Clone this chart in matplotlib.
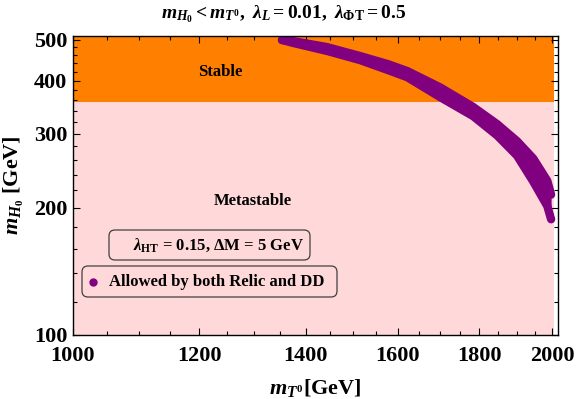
import matplotlib
matplotlib.use("Agg")
import matplotlib.pyplot as plt
from matplotlib.patches import FancyBboxPatch
from matplotlib.transforms import IdentityTransform
from matplotlib.ticker import FixedLocator, NullFormatter

# ---- data ----
band_x = [1353, 1375, 1444, 1515, 1578, 1622, 1701, 1784, 1847, 1901, 1946, 1986, 1997]
band_upper = [500, 497, 481, 458, 438, 422, 386, 347, 316, 288, 262, 232, 215]
band_lower = [500, 492, 471, 448, 424, 408, 366, 330, 297, 266, 231, 202, 188]

stable_min = 357          # boundary Stable / Metastable
region_x = [1000, 2004]

x_ticks = [1000, 1200, 1400, 1600, 1800, 2000]
y_ticks = [100, 200, 300, 400, 500]
x_minor = [1050, 1100, 1150, 1250, 1300, 1350, 1450, 1500, 1550, 1650, 1700, 1750,
           1850, 1900, 1950]
y_minor = [120, 140, 160, 180, 220, 240, 260, 280, 320, 340, 360, 380, 420, 440, 460, 480]

ORANGE = "#FF8000"
PINK = "#FFD9D9"
PURPLE = "#800080"

plt.rcParams["font.family"] = ["Liberation Serif", "DejaVu Serif"]
plt.rcParams["font.weight"] = "bold"
plt.rcParams["axes.labelweight"] = "bold"
plt.rcParams["mathtext.fontset"] = "custom"
plt.rcParams["mathtext.rm"] = "Liberation Serif:bold"
plt.rcParams["mathtext.it"] = "Liberation Serif:italic:bold"
plt.rcParams["mathtext.bf"] = "Liberation Serif:bold"

fig = plt.figure(figsize=(5.76, 3.99), dpi=100)
ax = fig.add_axes([73 / 576, 1 - 335 / 399, (558 - 73) / 576, (335 - 36) / 399])
ax.set_xscale("log")
ax.set_yscale("log")
ax.set_xlim(1000, 2017)
ax.set_ylim(100, 511)

# regions
ax.fill_between(region_x, [100, 100], [stable_min, stable_min], color=PINK, lw=0, zorder=0)
ax.fill_between(region_x, [stable_min, stable_min], [520, 520], color=ORANGE, lw=0, zorder=0)

# allowed band
ax.fill_between(band_x, band_lower, band_upper, color=PURPLE, lw=0, zorder=2)
ax.plot(band_x, band_upper, color=PURPLE, lw=6, solid_capstyle="round",
        solid_joinstyle="round", zorder=2)
ax.plot(band_x, band_lower, color=PURPLE, lw=6, solid_capstyle="round",
        solid_joinstyle="round", zorder=2)

# ticks
ax.xaxis.set_major_locator(FixedLocator(x_ticks))
ax.xaxis.set_minor_locator(FixedLocator(x_minor))
ax.yaxis.set_major_locator(FixedLocator(y_ticks))
ax.yaxis.set_minor_locator(FixedLocator(y_minor))
ax.set_xticklabels([str(v) for v in x_ticks])
ax.set_yticklabels([str(v) for v in y_ticks])
ax.xaxis.set_minor_formatter(NullFormatter())
ax.yaxis.set_minor_formatter(NullFormatter())
ax.tick_params(which="both", direction="in", top=True, right=True, width=0.8, labelsize=16)
ax.tick_params(which="major", length=5)
ax.tick_params(which="minor", length=3)
ax.tick_params(axis="x", which="major", pad=8)
ax.tick_params(axis="y", which="major", pad=4)
for s in ax.spines.values():
    s.set_linewidth(1.0)

ax.set_xlabel(r"$m_{T^0}$[GeV]", fontsize=16, labelpad=8)
ax.set_ylabel(r"$m_{H_0}$ [GeV]", fontsize=16, labelpad=6)
fig.text(284 / 576, 1 - 14 / 399,
         r"$m_{H_0} < m_{T^0},\ \lambda_L = 0.01,\ \lambda_{\Phi\mathrm{T}} = 0.5$",
         ha="center", va="center", fontsize=14)

ax.text(220 / 576, 1 - 72 / 399, "Stable", transform=fig.transFigure,
        ha="center", va="center", fontsize=12)
ax.text(253 / 576, 1 - 201 / 399, "Metastable", transform=fig.transFigure,
        ha="center", va="center", fontsize=12)

# boxes (in pixel coordinates)
for (x0, y0, x1, y1) in [(109, 230, 310, 260), (82, 266, 337, 297)]:
    p = FancyBboxPatch((x0, 399 - y1), x1 - x0, y1 - y0,
                       boxstyle="round,pad=0,rounding_size=6",
                       transform=IdentityTransform(), facecolor="none",
                       edgecolor="#404040", lw=0.9, zorder=5)
    fig.patches.append(p)

fig.text(218 / 576, 1 - 245 / 399,
         r"$\lambda_{\mathrm{HT}}$ = 0.15, ΔM = 5 GeV",
         ha="center", va="center", fontsize=12)
fig.text(109 / 576, 1 - 282 / 399, "Allowed by both Relic and DD",
         ha="left", va="center", fontsize=12)
fig.add_artist(plt.Line2D([93 / 576], [1 - 282 / 399], marker="o", ms=5,
                          color=PURPLE, transform=fig.transFigure, lw=0))

fig.savefig("out.png", dpi=100)
